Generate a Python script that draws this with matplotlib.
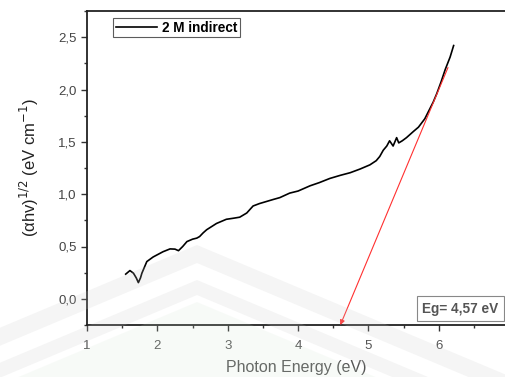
import matplotlib
matplotlib.use("Agg")
import matplotlib.pyplot as plt
from matplotlib.ticker import MultipleLocator, FuncFormatter
from matplotlib.patches import Polygon

plt.rcParams['font.family'] = ['Liberation Sans', 'DejaVu Sans']

# Data
energy = [1.55, 1.61, 1.66, 1.70, 1.73, 1.76, 1.78, 1.85, 1.94, 2.08, 2.18, 2.25, 2.30,
          2.36, 2.42, 2.50, 2.56, 2.60, 2.65, 2.70, 2.84, 2.98, 3.08, 3.17, 3.22, 3.27,
          3.36, 3.45, 3.55, 3.65, 3.74, 3.88, 4.00, 4.17, 4.30, 4.45, 4.60, 4.74, 4.88,
          5.02, 5.11, 5.16, 5.21, 5.26, 5.30, 5.35, 5.40, 5.43, 5.48, 5.54, 5.64, 5.71,
          5.80, 5.86, 5.92, 5.97, 6.03, 6.09, 6.16, 6.21]
alpha_hv = [0.236, 0.27, 0.245, 0.20, 0.155, 0.20, 0.245, 0.356, 0.40, 0.45, 0.477, 0.475, 0.46,
            0.50, 0.547, 0.57, 0.58, 0.595, 0.63, 0.66, 0.72, 0.76, 0.77, 0.78, 0.80, 0.82,
            0.887, 0.91, 0.93, 0.95, 0.967, 1.01, 1.03, 1.08, 1.11, 1.15, 1.18, 1.205, 1.24,
            1.28, 1.32, 1.36, 1.42, 1.46, 1.51, 1.46, 1.54, 1.49, 1.51, 1.54, 1.60, 1.64,
            1.72, 1.80, 1.88, 1.96, 2.07, 2.19, 2.31, 2.42]

legend_label = "2 M indirect"
eg_text = "Eg= 4,57 eV"
fit_start = (6.13, 2.21)
fit_end = (4.60, -0.25)

W, H = 505, 377
fig = plt.figure(figsize=(W/100, H/100), dpi=100)
ax = fig.add_axes([87/W, 1-325/H, 1-87/W, (325-11)/H])

ax.plot(energy, alpha_hv, color='black', lw=1.2, label=legend_label, zorder=3)

ax.annotate('', xy=fit_end, xytext=fit_start,
            arrowprops=dict(arrowstyle='-|>', color='#ff3030', lw=0.8,
                            mutation_scale=7, shrinkA=0, shrinkB=0),
            zorder=4, annotation_clip=False)

ax.set_xlim(1, 6.94)
ax.set_ylim(-0.25, 2.75)

ax.xaxis.set_major_locator(MultipleLocator(1))
ax.xaxis.set_minor_locator(MultipleLocator(0.5))
ax.yaxis.set_major_locator(MultipleLocator(0.5))
ax.yaxis.set_minor_locator(MultipleLocator(0.25))

def comma(v, pos):
    return f"{v:.1f}".replace('.', ',')
ax.yaxis.set_major_formatter(FuncFormatter(comma))
ax.xaxis.set_major_formatter(FuncFormatter(lambda v, p: f"{v:.0f}"))

ax.tick_params(axis='both', which='major', direction='out', length=4.5, width=1,
               labelsize=9.5, colors='#333333', labelcolor='#444444')
ax.tick_params(axis='both', which='minor', direction='out', length=2.5, width=1,
               colors='#333333')
ax.tick_params(axis='x', pad=6, labelcolor='#555555')
ax.tick_params(axis='y', pad=3)

for s in ['left', 'bottom', 'top']:
    ax.spines[s].set_color('#222222')
    ax.spines[s].set_linewidth(1.3)
ax.spines['right'].set_visible(False)

ax.set_xlabel('Photon Energy (eV)', fontsize=11.5, color='#555555', labelpad=6)
ax.set_ylabel(r'(αhv)$^{1/2}$ (eV cm$^{-1}$)', fontsize=12, color='#222222', labelpad=12)

leg = ax.legend(loc='upper left', bbox_to_anchor=(26/418, 1-7/314), frameon=True,
                fancybox=False, edgecolor='#333333', prop={'weight': 'bold', 'size': 9.8},
                handlelength=3.0, borderpad=0.2, handletextpad=0.4, borderaxespad=0)
leg.get_frame().set_linewidth(0.8)

ax.text(0.985, 0.03, eg_text, transform=ax.transAxes, ha='right', va='bottom',
        fontsize=9.8, fontweight='bold', color='#555555',
        bbox=dict(boxstyle='square,pad=0.4', fc='white', ec='#888888', lw=0.8))

# faint watermark (chevron bands + pale green area), in figure pixel coords
def chevron(top, thick, peak_x=197, slope=0.42):
    xs = [0, peak_x, W]
    t = [(x, top + slope*abs(x-peak_x)) for x in xs]
    b = [(x, y+thick) for x, y in t][::-1]
    return [(x/W, 1-y/H) for x, y in t + b]

def chevron_fill(top, peak_x=197, slope=0.42):
    xs = [0, peak_x, W]
    t = [(x, top + slope*abs(x-peak_x)) for x in xs]
    return [(x/W, 1-y/H) for x, y in t] + [(1, -0.5), (0, -0.5)]

fig.patches.append(Polygon(chevron(245, 18), closed=True, transform=fig.transFigure,
                           fc='#c8c8c8', ec='none', alpha=0.18, zorder=10))
fig.patches.append(Polygon(chevron(280, 15), closed=True, transform=fig.transFigure,
                           fc='#c8c8c8', ec='none', alpha=0.18, zorder=10))
fig.patches.append(Polygon(chevron_fill(302), closed=True, transform=fig.transFigure,
                           fc='#cfe3cf', ec='none', alpha=0.15, zorder=10))

fig.savefig('out.png', dpi=100)
